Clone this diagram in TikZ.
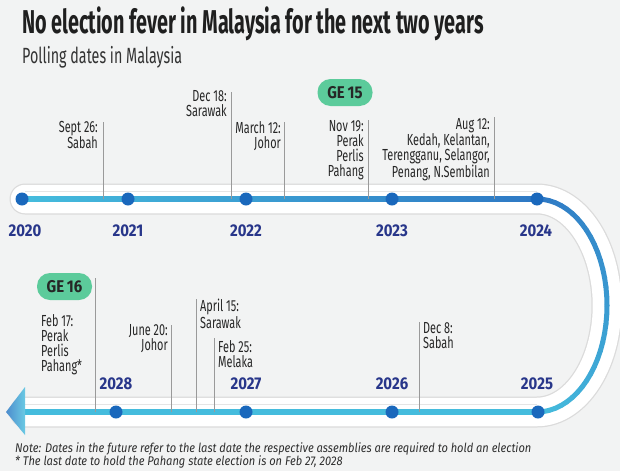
\documentclass[tikz,border=0pt]{standalone}
\usepackage{fontspec}
\setmainfont{Fira Sans}
\newfontfamily\titlefont[FakeStretch=0.6]{Fira Sans}
\newfontfamily\subfont[FakeStretch=0.65]{Fira Sans}
\newfontfamily\lblfont[FakeStretch=0.68]{Fira Sans}
\newfontfamily\yrfont[FakeStretch=0.88]{Fira Sans}
\newfontfamily\notefont[FakeStretch=0.88]{Fira Sans}
\definecolor{bgc}{HTML}{F2F3F3}
\definecolor{trkC}{HTML}{45BCDD}
\definecolor{trkB}{HTML}{2E78C4}
\definecolor{dotc}{HTML}{1A68BC}
\definecolor{yrc}{HTML}{28368A}
\definecolor{gec}{HTML}{5CCB9B}
\definecolor{txtc}{HTML}{262626}
\definecolor{vline}{HTML}{9A9A9A}
\tikzset{
  yr/.style={font=\yrfont\bfseries\fontsize{17}{17}\selectfont, text=yrc, inner sep=0pt},
  lbl/.style={font=\lblfont\fontsize{16}{15.2}\selectfont, text=txtc, inner sep=0pt},
  lblR/.style={lbl, anchor=north east, align=right},
  lblL/.style={lbl, anchor=north west, align=left},
  tick/.style={draw=vline, line width=0.7pt},
  yeardot/.style={circle, fill=dotc, minimum size=13pt, inner sep=0pt},
  badge/.style={fill=gec, rounded corners=13pt, minimum width=55pt, minimum height=27pt, inner sep=0pt,
    font=\yrfont\bfseries\fontsize{17}{17}\selectfont, text=black!85},
  notestyle/.style={anchor=base west, inner sep=0pt, font=\notefont\itshape\fontsize{12.6}{12.6}\selectfont, text=black!82},
}
\begin{document}
\begin{tikzpicture}[x=1pt,y=-1pt]
\useasboundingbox (0,0) rectangle (620,471);
\fill[bgc] (0,0) rectangle (620,471);
% title
\node[anchor=base west, inner sep=0pt, font=\titlefont\bfseries\fontsize{33}{33}\selectfont, text=black!88] (title) at (22,33) {No election fever in Malaysia for the next two years};
\node[anchor=base west, inner sep=0pt, font=\subfont\fontsize{22}{22}\selectfont, text=black!80] (subtitle) at (22,63) {Polling dates in Malaysia};
% band
\draw[line width=31pt, draw=black!14, line cap=round] (25,199) -- (537,199) -- plot[domain=-90:90,samples=60] ({537+70*cos(\x)},{305.5+106.5*sin(\x)}) -- (25,412);
\draw[line width=28.5pt, draw=white, line cap=round] (25,199) -- (537,199) -- plot[domain=-90:90,samples=60] ({537+70*cos(\x)},{305.5+106.5*sin(\x)}) -- (25,412);
\draw[line width=0.5pt, draw=black!10] (25,191) -- (537,191);
\draw[line width=0.5pt, draw=black!10] (25,404) -- (537,404);
% colored track
\shade[left color=trkC, right color=trkB] (22,196.5) rectangle (537,201.5);
\foreach \k in {0,...,35}{
  \pgfmathtruncatemacro\pmix{round(100*\k/35)}
  \pgfmathsetmacro\angA{-90+5*\k}
  \pgfmathsetmacro\angB{-85+5*\k}
  \pgfmathsetmacro\xA{537+70*cos(\angA)}
  \pgfmathsetmacro\yA{305.5+106.5*sin(\angA)}
  \pgfmathsetmacro\xB{537+70*cos(\angB)}
  \pgfmathsetmacro\yB{305.5+106.5*sin(\angB)}
  \draw[line width=5pt, draw=trkC!\pmix!trkB, line cap=round] (\xA,\yA) -- (\xB,\yB);
}
\shade[left color=trkC, middle color=trkB, right color=trkC] (24,409.5) rectangle (537,414.5);
% arrow head
\shade[left color=trkB!85!white, right color=trkC!80!white] (6,412) -- (25,387) -- (25,435) -- cycle;
% top ticks and labels
\coordinate (s1t) at (103,122); \coordinate (s1b) at (103,199);
\coordinate (s2t) at (231,92);  \coordinate (s2b) at (231,199);
\coordinate (s3t) at (284,122); \coordinate (s3b) at (284,199);
\coordinate (s4t) at (368,120); \coordinate (s4b) at (368,199);
\coordinate (s5t) at (494,117); \coordinate (s5b) at (494,199);
\draw[tick] (s1t) -- (s1b);
\draw[tick] (s2t) -- (s2b);
\draw[tick] (s3t) -- (s3b);
\draw[tick] (s4t) -- (s4b);
\draw[tick] (s5t) -- (s5b);
\node[lblR] (sept) at (98,121) {Sept 26:\\Sabah};
\node[lblR] (dec18) at (227,90) {Dec 18:\\Sarawak};
\node[lblR] (mar12) at (281,121) {March 12:\\Johor};
\node[lblR] (nov19) at (364,120) {Nov 19:\\Perak\\Perlis\\Pahang};
\node[lblR] (aug12) at (490,118) {Aug 12:\\Kedah, Kelantan,\\Terengganu, Selangor,\\Penang, N.Sembilan};
\node[badge] (ge15) at (345,92.5) {GE\,15};
% bottom ticks and labels
\coordinate (b1t) at (95,278);  \coordinate (b1b) at (95,412);
\coordinate (b2t) at (171,325); \coordinate (b2b) at (171,412);
\coordinate (b3t) at (196,299); \coordinate (b3b) at (196,412);
\coordinate (b4t) at (214,338); \coordinate (b4b) at (214,412);
\coordinate (b5t) at (419,322); \coordinate (b5b) at (419,412);
\draw[tick] (b1t) -- (b1b);
\draw[tick] (b2t) -- (b2b);
\draw[tick] (b3t) -- (b3b);
\draw[tick] (b4t) -- (b4b);
\draw[tick] (b5t) -- (b5b);
\node[badge] (ge16) at (64.5,286.5) {GE\,16};
\node[lblL] (feb17) at (41,314) {Feb 17:\\Perak\\Perlis\\Pahang*};
\node[lblR] (jun20) at (168,324) {June 20:\\Johor};
\node[lblL] (apr15) at (200,299) {April 15:\\Sarawak};
\node[lblL] (feb25) at (218,340) {Feb 25:\\Melaka};
\node[lblL] (dec8) at (423,322) {Dec 8:\\Sabah};
% year dots
\node[yeardot] (y2020) at (22,199) {};
\node[yeardot] (y2021) at (128,199) {};
\node[yeardot] (y2022) at (246,199) {};
\node[yeardot] (y2023) at (392,199) {};
\node[yeardot] (y2024) at (537,199) {};
\node[yeardot] (y2025) at (538,412) {};
\node[yeardot] (y2026) at (392,412) {};
\node[yeardot] (y2027) at (246,412) {};
\node[yeardot] (y2028) at (116,412) {};
\node[yr, anchor=base] (t2020) at (25,236) {2020};
\node[yr, anchor=base] (t2021) at (128,236) {2021};
\node[yr, anchor=base] (t2022) at (246,236) {2022};
\node[yr, anchor=base] (t2023) at (392,236) {2023};
\node[yr, anchor=base] (t2024) at (536,236) {2024};
\node[yr, anchor=base] (t2028) at (116,389) {2028};
\node[yr, anchor=base] (t2027) at (246,389) {2027};
\node[yr, anchor=base] (t2026) at (392,389) {2026};
\node[yr, anchor=base] (t2025) at (537,389) {2025};
% notes
\node[notestyle] (note1) at (15,452) {Note: Dates in the future refer to the last date the respective assemblies are required to hold an election};
\node[notestyle] (note2) at (15,465) {* The last date to hold the Pahang state election is on Feb 27, 2028};
\end{tikzpicture}
\end{document}
